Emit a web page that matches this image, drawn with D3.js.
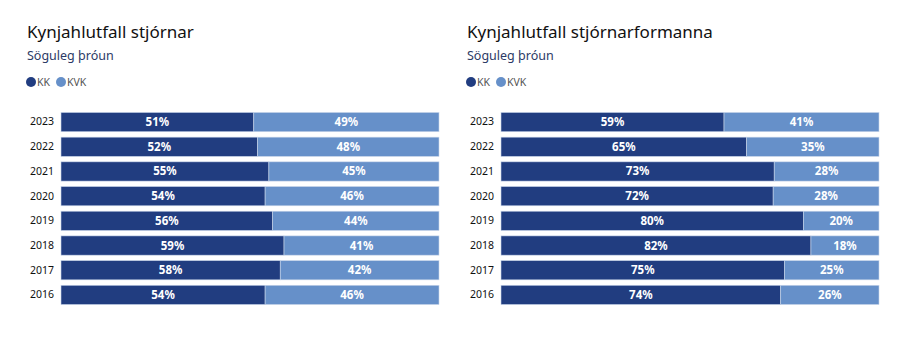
<html>
<meta charset="utf-8" />
<head>
<title>Kynjahlutfall</title>
<script src="https://cdn.jsdelivr.net/npm/d3@7"></script>
<style>
	body { margin: 0; background: #fff; font-family: "Noto Sans", "Open Sans", sans-serif; }
</style>
<script>
let years = ['2023', '2022', '2021', '2020', '2019', '2018', '2017', '2016'];
let series = ['KK', 'KVK'];
let stjornKK = [51, 52, 55, 54, 56, 59, 58, 54];
let stjornKVK = [49, 48, 45, 46, 44, 41, 42, 46];
let formKK = [59, 65, 73, 72, 80, 82, 75, 74];
let formKVK = [41, 35, 28, 28, 20, 18, 25, 26];

let colors = ['#213d80', '#6690c9'];

window.onload = function() {
	let svg = d3.select('svg');

	drawPanel(svg, 0, 'Kynjahlutfall stjórnar', stjornKK, stjornKVK);
	drawPanel(svg, 440, 'Kynjahlutfall stjórnarformanna', formKK, formKVK);

	function drawPanel(svg, offset, title, kk, kvk) {
		let g = svg.append('g').attr('transform', 'translate(' + offset + ',0)');

		g.append('text')
		.attr('x', 27).attr('y', 38)
		.style('font-size', '17px')
		.style('fill', '#111')
		.text(title);

		g.append('text')
		.attr('x', 27).attr('y', 60)
		.style('font-size', '12.5px')
		.style('fill', '#2c3a66')
		.text('Söguleg þróun');

		let leg = g.selectAll('.leg')
		.data(series)
		.enter()
		.append('g')
		.attr('transform', (d, i) => 'translate(' + (31 + i * 30) + ',82)');

		leg.append('circle').attr('r', 5).style('fill', (d, i) => colors[i]);
		leg.append('text')
		.attr('x', 6).attr('y', 4)
		.style('font-size', '10.5px')
		.style('fill', '#555')
		.text((d) => d);

		let rows = years.map((y, i) => ({ year: y, KK: kk[i], KVK: kvk[i] }));
		let stacked = d3.stack().keys(series).offset(d3.stackOffsetExpand)(rows);

		let x = d3.scaleLinear().domain([0, 1]).range([61, 439]);
		let y = d3.scaleBand().domain(years).range([110, 307]).paddingInner(0.22).paddingOuter(0.1);

		let layers = g.selectAll('.layer')
		.data(stacked)
		.enter()
		.append('g')
		.style('fill', (d, i) => colors[i]);

		layers.selectAll('rect')
		.data((d) => d)
		.enter()
		.append('rect')
		.attr('x', (d) => x(d[0]))
		.attr('y', (d) => y(d.data.year))
		.attr('width', (d) => x(d[1]) - x(d[0]))
		.attr('height', y.bandwidth())
		.style('stroke', '#c9d6ea')
		.style('stroke-width', '0.6px');

		layers.selectAll('text')
		.data((d) => d.map((p) => ({ p: p, key: d.key })))
		.enter()
		.append('text')
		.attr('x', (d) => (x(d.p[0]) + x(d.p[1])) / 2)
		.attr('y', (d) => y(d.p.data.year) + y.bandwidth() / 2 + 4)
		.attr('text-anchor', 'middle')
		.style('fill', '#fff')
		.style('font-size', '11.5px')
		.style('font-weight', 'bold')
		.text((d) => d.p.data[d.key] + '%');

		let yAxis = g.append('g')
		.attr('transform', 'translate(54,0)')
		.call(d3.axisLeft(y).tickSize(0).tickPadding(0));
		yAxis.select('.domain').remove();
		yAxis.selectAll('text')
		.style('font-size', '10.5px')
		.style('font-family', '"Noto Sans", sans-serif')
		.style('fill', '#111');
	}
}
</script>
</head>
<body>
<svg style="width:912px; height:338px; display:block" />
</body>
</html>
